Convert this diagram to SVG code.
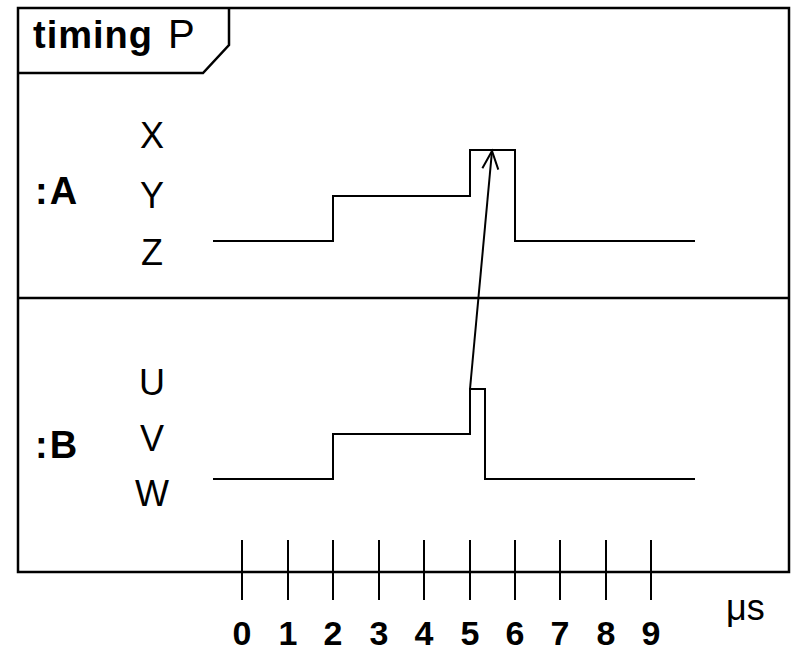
<svg xmlns="http://www.w3.org/2000/svg" width="792" height="653" viewBox="0 0 792 653">
<style>
.ln{fill:none;stroke:#000;stroke-width:2}
.fr{fill:none;stroke:#000;stroke-width:2.5}
.t{font-family:"Liberation Sans",Arial,sans-serif;fill:#000}
.st{font-size:36px;text-anchor:middle}
.lf{font-size:38px;font-weight:bold;letter-spacing:2px}
.dg{font-size:34px;font-weight:bold;text-anchor:middle}
</style>
<defs>
<marker id="open" markerWidth="24" markerHeight="24" refX="20" refY="10" orient="auto" markerUnits="userSpaceOnUse" viewBox="0 0 24 20">
<path d="M2,2 L20,10 L2,18" fill="none" stroke="#000" stroke-width="2"/>
</marker>
</defs>
<g id="frame">
<rect class="fr" x="18" y="8" width="771" height="564" fill="#fff"/>
<path class="fr" d="M18,73 L203,73 L229,45 L229,8"/>
<text class="t" x="33" y="48" font-size="38"><tspan font-weight="bold" letter-spacing="1">timing</tspan><tspan x="168" font-size="40">P</tspan></text>
</g>
<g id="lifelineA">
<line class="fr" x1="18" y1="298" x2="789" y2="298"/>
<text class="t lf" x="35" y="204">:A</text>
<text class="t st" x="152" y="148">X</text>
<text class="t st" x="152" y="208">Y</text>
<text class="t st" x="152" y="265">Z</text>
<path class="ln" d="M213,241 H333 V196 H470 V150 H515 V241 H695"/>
</g>
<g id="lifelineB">
<text class="t lf" x="35" y="458">:B</text>
<text class="t st" x="152" y="395">U</text>
<text class="t st" x="152" y="451">V</text>
<text class="t st" x="152" y="506">W</text>
<path class="ln" d="M213,479 H333 V434 H470 V389 H485 V479 H695"/>
</g>
<g id="connectors">
<line class="ln" x1="470" y1="389" x2="492" y2="151" marker-end="url(#open)"/>
</g>
<g id="axis">
<path class="ln" d="M242,540 V600 M288,540 V600 M333,540 V600 M379,540 V600 M424,540 V600 M470,540 V600 M515,540 V600 M560,540 V600 M606,540 V600 M651,540 V600"/>
<text class="t dg" x="242" y="645">0</text>
<text class="t dg" x="288" y="645">1</text>
<text class="t dg" x="333" y="645">2</text>
<text class="t dg" x="379" y="645">3</text>
<text class="t dg" x="424" y="645">4</text>
<text class="t dg" x="470" y="645">5</text>
<text class="t dg" x="515" y="645">6</text>
<text class="t dg" x="560" y="645">7</text>
<text class="t dg" x="606" y="645">8</text>
<text class="t dg" x="651" y="645">9</text>
<text class="t" x="726" y="620" font-size="36">μs</text>
</g>
</svg>
